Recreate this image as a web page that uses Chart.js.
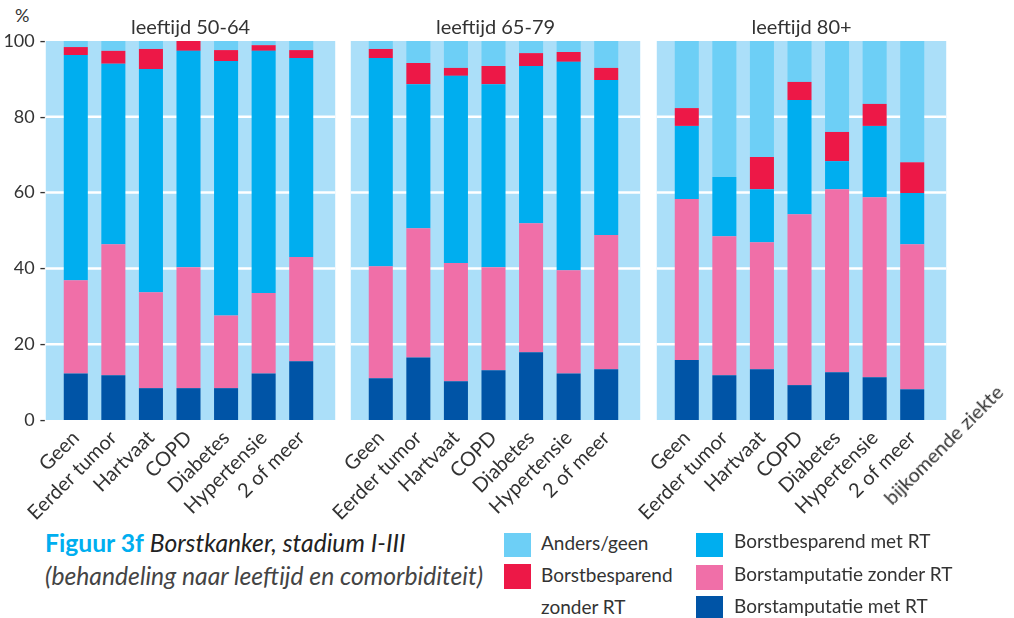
<!DOCTYPE html>
<html>
<head>
<meta charset="utf-8">
<script src="https://cdn.jsdelivr.net/npm/chart.js@4"></script>
<style>
  body { margin: 0; background: #fff; width: 1014px; height: 618px; position: relative; overflow: hidden; font-family: Lato, sans-serif; color: #333; }
  canvas { position: absolute; top: 0; }
  .abs { position: absolute; white-space: nowrap; }
  .sq { position: absolute; width: 27px; height: 24px; }
  .leg { position: absolute; font-size: 19px; line-height: 24px; white-space: nowrap; color: #333; }
</style>
</head>
<body>
<div class="abs" style="left:15px;top:4px;font-size:18px;">%</div>

<canvas id="c1" width="340" height="520" style="left:0"></canvas>
<canvas id="c2" width="340" height="520" style="left:322px"></canvas>
<canvas id="c3" width="340" height="520" style="left:628px"></canvas>

<div class="abs" style="right:15px;top:378px;font-size:20px;line-height:20px;transform-origin:right center;transform:rotate(-45deg);">bijkomende ziekte</div>

<div class="abs" style="left:45px;top:526px;font-size:24.7px;line-height:33px;font-style:italic;">
  <span style="color:#00aeef;font-weight:bold;font-style:normal;">Figuur 3f</span> <span style="color:#222">Borstkanker, stadium I-III</span><br>
  <span style="color:#444">(behandeling naar leeftijd en comorbiditeit)</span>
</div>

<div class="sq" style="left:504px;top:533px;background:#6dcff6"></div>
<div class="sq" style="left:504px;top:564px;height:25px;background:#ed1847"></div>
<div class="leg" style="left:541px;top:531px">Anders/geen</div>
<div class="leg" style="left:541px;top:563px">Borstbesparend</div>
<div class="leg" style="left:541px;top:595px">zonder RT</div>

<div class="sq" style="left:696px;top:533px;background:#00aeef"></div>
<div class="sq" style="left:696px;top:565px;height:25px;background:#f06fa8"></div>
<div class="sq" style="left:696px;top:596px;height:22px;background:#0054a6"></div>
<div class="leg" style="left:734px;top:529px">Borstbesparend met RT</div>
<div class="leg" style="left:734px;top:562px">Borstamputatie zonder RT</div>
<div class="leg" style="left:734px;top:594px">Borstamputatie met RT</div>

<script>
const categories = ["Geen", "Eerder tumor", "Hartvaat", "COPD", "Diabetes", "Hypertensie", "2 of meer"];
const ageGroups = ["leeftijd 50-64", "leeftijd 65-79", "leeftijd 80+"];
const yTicks = [0, 20, 40, 60, 80, 100];

// one row per age group, one value per category (%)
const amputatieMetRT = [
  [12.3, 11.8, 8.4, 8.4, 8.4, 12.3, 15.5],
  [11.0, 16.5, 10.2, 13.1, 17.9, 12.3, 13.4],
  [15.8, 11.8, 13.4, 9.2, 12.6, 11.3, 8.1]
];
const amputatieZonderRT = [
  [24.6, 34.6, 25.3, 31.9, 19.2, 21.2, 27.5],
  [29.6, 34.1, 31.2, 27.2, 34.0, 27.2, 35.4],
  [42.5, 36.7, 33.5, 45.1, 48.3, 47.5, 38.3]
];
const besparendMetRT = [
  [59.4, 47.6, 58.9, 57.1, 67.1, 63.9, 52.5],
  [54.9, 38.0, 49.4, 48.3, 41.5, 55.0, 40.9],
  [19.3, 15.6, 14.0, 30.1, 7.4, 18.8, 13.5]
];
const besparendZonderRT = [
  [2.1, 3.4, 5.3, 2.6, 2.9, 1.5, 2.1],
  [2.4, 5.6, 2.1, 4.8, 3.4, 2.6, 3.2],
  [4.7, 0, 8.5, 4.8, 7.7, 5.8, 8.1]
];
const andersGeen = [
  [1.6, 2.6, 2.1, 0, 2.4, 1.1, 2.4],
  [2.1, 5.8, 7.1, 6.6, 3.2, 2.9, 7.1],
  [17.7, 35.9, 30.6, 10.8, 24.0, 16.6, 32.0]
];

const seriesNames = ["Borstamputatie met RT", "Borstamputatie zonder RT", "Borstbesparend met RT", "Borstbesparend zonder RT", "Anders/geen"];
const seriesColors = ["#0054a6", "#f06fa8", "#00aeef", "#ed1847", "#6dcff6"];
const seriesData = [amputatieMetRT, amputatieZonderRT, besparendMetRT, besparendZonderRT, andersGeen];

// light blue panel with white grid lines and the panel title
const panelBackground = {
  id: 'panelBackground',
  beforeDatasetsDraw(chart, args, opts) {
    const {ctx, chartArea, scales: {x, y}} = chart;
    const left = x.getPixelForValue(0) - 30;
    const right = x.getPixelForValue(categories.length - 1) + 34;
    ctx.save();
    ctx.fillStyle = '#abdff9';
    ctx.fillRect(left, chartArea.top, right - left, chartArea.bottom - chartArea.top);
    ctx.strokeStyle = '#fff';
    ctx.lineWidth = 2.5;
    yTicks.slice(1, -1).forEach(v => {
      const py = y.getPixelForValue(v);
      ctx.beginPath();
      ctx.moveTo(left, py);
      ctx.lineTo(right, py);
      ctx.stroke();
    });
    ctx.fillStyle = '#333';
    ctx.font = '20px Lato';
    ctx.textAlign = 'center';
    ctx.fillText(opts.title, (left + right) / 2, chartArea.top - 7);
    ctx.restore();
  }
};

function makePanel(id, g) {
  const first = g === 0;
  const yScale = {
    stacked: true,
    display: first,
    min: 0,
    max: 100,
    grid: { display: false, drawTicks: false },
    border: { display: false },
    ticks: { stepSize: 20, padding: 11, color: '#333', font: { family: 'Lato', size: 18 }, callback: v => v + ' -' }
  };
  if (first) yScale.afterFit = s => { s.width = 57; };

  new Chart(id, {
    type: 'bar',
    data: {
      labels: categories,
      datasets: seriesNames.map((name, i) => ({
        label: name,
        data: seriesData[i][g],
        backgroundColor: seriesColors[i],
        borderWidth: 0,
        categoryPercentage: 1,
        barPercentage: 0.64
      }))
    },
    options: {
      responsive: false,
      animation: false,
      layout: { padding: { top: 41, left: first ? 0 : 40, right: first ? 20 : 37, bottom: 0 } },
      plugins: {
        legend: { display: false },
        tooltip: { enabled: false },
        panelBackground: { title: ageGroups[g] }
      },
      scales: {
        x: {
          stacked: true,
          grid: { display: false, drawTicks: false },
          border: { display: false },
          ticks: { autoSkip: false, minRotation: 45, maxRotation: 45, padding: 6, color: '#333', font: { family: 'Lato', size: 20 } },
          afterFit: s => { s.height = 100; }
        },
        y: yScale
      }
    },
    plugins: [panelBackground]
  });
}

makePanel('c1', 0);
makePanel('c2', 1);
makePanel('c3', 2);
</script>
</body>
</html>
